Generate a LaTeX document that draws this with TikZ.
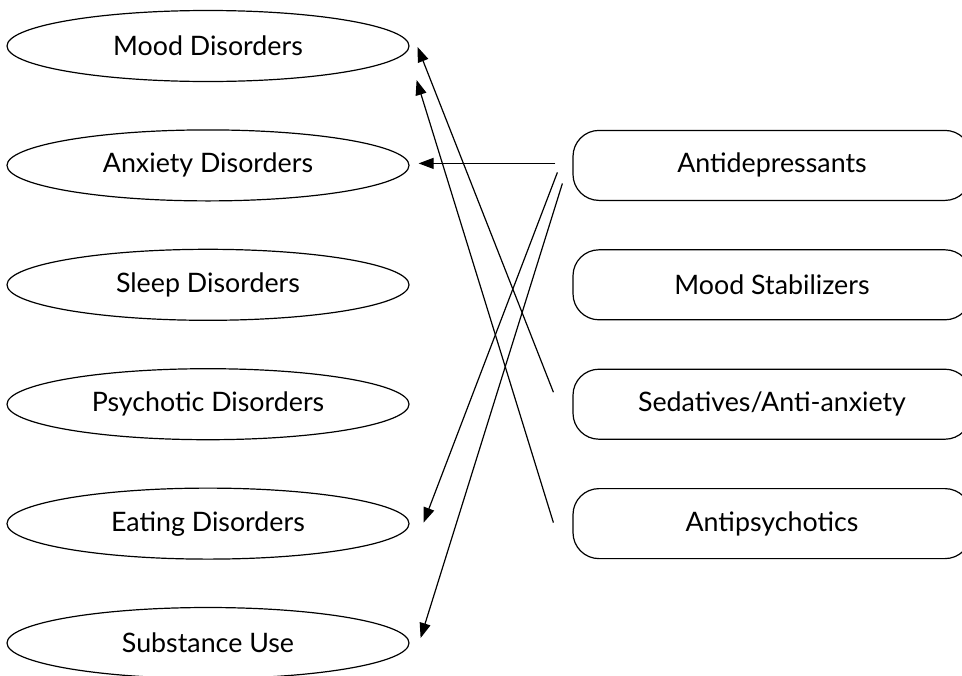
\documentclass[tikz,border=0pt]{standalone}
\usepackage{fontspec}
\setmainfont{Lato}
\usepackage{tikz}
\usetikzlibrary{shapes.geometric, arrows.meta, calc}
\tikzstyle{disorder} = [ellipse, minimum width=201pt, minimum height=35.5pt, inner sep=0pt, text centered, draw=black, line width=0.6pt]
\tikzstyle{drug} = [rectangle, rounded corners=13pt, minimum width=199pt, minimum height=35pt, text centered, draw=black, line width=0.6pt]
\tikzstyle{arrow} = [line width=0.6pt,-{Triangle[length=7.5pt,width=5.5pt]}]

\begin{document}
\begin{tikzpicture}[
  x=0.5pt, y=-0.5pt,
  node distance=59.7pt,
  font=\fontsize{13.4}{15}\selectfont
  ]
\useasboundingbox (0,0) rectangle (962,675);
\node (mood) [disorder] at (208,46) {Mood Disorders};
\node (anxiety) [disorder, below of=mood] {Anxiety Disorders};
\node (sleep) [disorder, below of=anxiety] {Sleep Disorders};
\node (psychotic) [disorder, below of=sleep] {Psychotic Disorders};
\node (eating) [disorder, below of=psychotic] {Eating Disorders};
\node (substance) [disorder, below of=eating] {Substance Use};

\node (anti) [drug, right of=anxiety, xshift=222.3pt] {Antidepressants};
\node (stab) [drug, below of=anti] {Mood Stabilizers};
\node (sed) [drug, below of=stab] {Sedatives/Anti-anxiety};
\node (psy) [drug, below of=sed] {Antipsychotics};

\draw [arrow] ($(anti.west)+(-17,-2)$) -- ($(anxiety.east)+(9,-2)$);
\draw [arrow] ($(anti.west)+(-15,7)$) -- ($(eating.east)+(14,-1)$);
\draw [arrow] ($(anti.west)+(-10,18)$) -- ($(substance.east)+(11,-5)$);
\draw [arrow] ($(sed.west)+(-19,-12)$) -- ($(mood.east)+(8,1)$);
\draw [arrow] ($(psy.west)+(-19,-1)$) -- ($(mood.east)+(7,34)$);
\end{tikzpicture}
\end{document}
